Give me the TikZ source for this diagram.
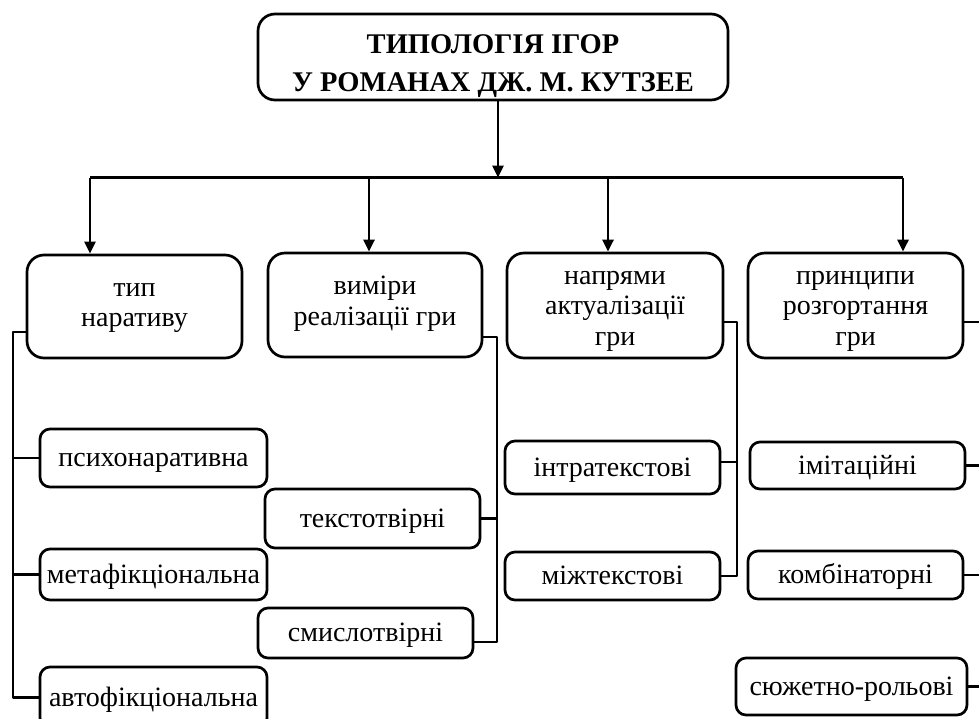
\documentclass[tikz,border=0pt]{standalone}
\usepackage{fontspec}
\setmainfont{Liberation Serif}
\usetikzlibrary{arrows.meta}
\newcommand{\hdtext}[2][0pt]{\raisebox{#1}[\height][\depth]{\begin{tabular}{@{}c@{}}#2\end{tabular}}}
\begin{document}
\begin{tikzpicture}[x=1pt,y=-1pt,
  ln/.style={line width=2.7pt, line join=round},
  arr/.style={ln, -{Triangle[length=12pt,width=11pt]}},
  head/.style={draw, ln, rounded corners=17pt, inner sep=0pt,
    font=\fontsize{28}{30.5}\selectfont},
  leaf/.style={draw, ln, rounded corners=10pt, inner sep=0pt,
    text height=20pt, text depth=3pt,
    font=\fontsize{28}{31}\selectfont},
  ttl/.style={draw, ln, rounded corners=17pt, inner sep=0pt,
    font=\fontsize{28.5}{38}\selectfont\bfseries}
]
\useasboundingbox (0,0) rectangle (979,718);
\clip (0,0) rectangle (979,718);

% title
\node[ttl, minimum width=470pt, minimum height=86pt] (title) at (493,57)
  {\hdtext[-7.5pt]{ТИПОЛОГІЯ ІГОР\\У РОМАНАХ ДЖ. М. КУТЗЕЕ}};

% header boxes
\node[head, minimum width=215pt, minimum height=103pt] (c1) at (134.5,306.5) {\hdtext[1pt]{тип\\наративу}};
\node[head, minimum width=214pt, minimum height=104pt] (c2) at (375,305) {\hdtext[1pt]{виміри\\реалізації гри}};
\node[head, minimum width=216pt, minimum height=105pt] (c3) at (615,305.5) {\hdtext[-3pt]{напрями\\актуалізації\\гри}};
\node[head, minimum width=215pt, minimum height=105pt] (c4) at (855.5,305.5) {\hdtext[-3pt]{принципи\\розгортання\\гри}};

% leaves column 1
\node[leaf, minimum width=227pt, minimum height=58pt] (l11) at (153.5,458) {психонаративна};
\node[leaf, minimum width=227pt, minimum height=51pt] (l12) at (153.5,574.5) {метафікціональна};
\node[leaf, minimum width=227pt, minimum height=61pt] (l13) at (153.5,697.5) {автофікціональна};
% leaves column 2
\node[leaf, minimum width=215pt, minimum height=59pt] (l21) at (372.5,518.5) {текстотвірні};
\node[leaf, minimum width=215pt, minimum height=50pt] (l22) at (365.5,633) {смислотвірні};
% leaves column 3
\node[leaf, minimum width=215pt, minimum height=53pt] (l31) at (612.5,467.5) {інтратекстові};
\node[leaf, minimum width=215pt, minimum height=48pt] (l32) at (612.5,576) {міжтекстові};
% leaves column 4
\node[leaf, minimum width=215pt, minimum height=47pt] (l41) at (857.5,465.5) {імітаційні};
\node[leaf, minimum width=215pt, minimum height=48pt] (l42) at (855.5,575) {комбінаторні};
\node[leaf, minimum width=231pt, minimum height=57pt] (l43) at (851.5,686.5) {сюжетно-рольові};

% top distribution
\coordinate (hub) at (498,177.5);
\coordinate (a1) at (90,177.5);
\coordinate (a2) at (369,177.5);
\coordinate (a3) at (608,177.5);
\coordinate (a4) at (903,177.5);
\draw[arr] (title.south -| hub) -- (hub);
\draw[ln] (a1) -- (a4);
\draw[arr] (a1) -- (a1 |- c1.north);
\draw[arr] (a2) -- (a2 |- c2.north);
\draw[arr] (a3) -- (a3 |- c3.north);
\draw[arr] (a4) -- (a4 |- c4.north);

% column 1 connectors
\coordinate (v1) at (13,332);
\draw[ln] (c1.west |- v1) -- (v1) -- (v1 |- l13.west) -- (l13.west);
\draw[ln] (v1 |- l11.west) -- (l11.west);
\draw[ln] (v1 |- l12.west) -- (l12.west);

% column 2 connectors
\coordinate (v2) at (497,337);
\coordinate (v2b) at (497,642);
\draw[ln] (c2.east |- v2) -- (v2) -- (v2b) -- (l22.east |- v2b);
\draw[ln] (v2 |- l21.east) -- (l21.east);

% column 3 connectors
\coordinate (v3) at (737,322);
\coordinate (v3a) at (737,462);
\draw[ln] (c3.east |- v3) -- (v3) -- (v3 |- l32.east) -- (l32.east);
\draw[ln] (v3a) -- (l31.east |- v3a);

% column 4 connectors
\coordinate (v4) at (983,322);
\draw[ln] (c4.east |- v4) -- (v4) -- (v4 |- l43.east) -- (l43.east);
\draw[ln] (v4 |- l41.east) -- (l41.east);
\draw[ln] (v4 |- l42.east) -- (l42.east);
\end{tikzpicture}
\end{document}
